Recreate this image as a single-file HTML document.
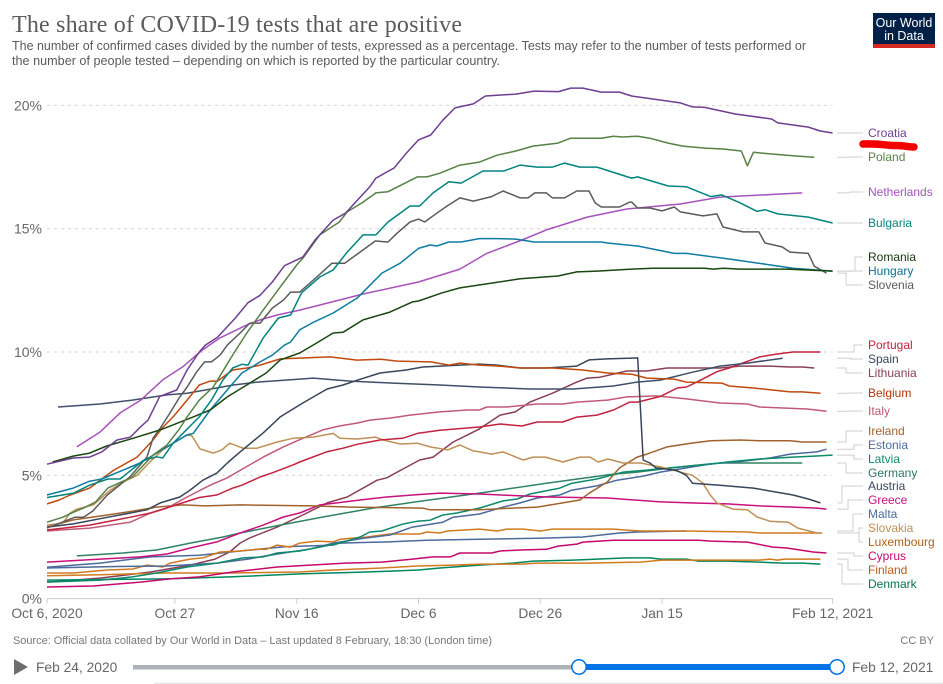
<!DOCTYPE html>
<html lang="en">
<head>
<meta charset="utf-8">
<title>The share of COVID-19 tests that are positive</title>
<style>
html,body{margin:0;padding:0;background:#fff;}
svg{display:block;font-family:"Liberation Sans",sans-serif;}
</style>
</head>
<body>
<svg id="chart" width="943" height="684" viewBox="0 0 943 684" xmlns="http://www.w3.org/2000/svg">
  <rect x="0" y="0" width="943" height="684" fill="#fff"/>
  <text x="12" y="32" font-family="'Liberation Serif',serif" font-size="24" fill="#5b5b5b" textLength="450" lengthAdjust="spacing">The share of COVID-19 tests that are positive</text>
  <text x="12" y="50" font-size="12.5" fill="#5b5b5b" textLength="794" lengthAdjust="spacingAndGlyphs">The number of confirmed cases divided by the number of tests, expressed as a percentage. Tests may refer to the number of tests performed or</text>
  <text x="12" y="65" font-size="12.5" fill="#5b5b5b" textLength="488" lengthAdjust="spacingAndGlyphs">the number of people tested – depending on which is reported by the particular country.</text>

  <g>
    <rect x="873" y="13" width="62" height="35" fill="#002147"/>
    <rect x="873" y="44" width="62" height="4" fill="#d42b21"/>
    <text x="904" y="27" font-size="12.5" fill="#fff" text-anchor="middle">Our World</text>
    <text x="904" y="40" font-size="12.5" fill="#fff" text-anchor="middle">in Data</text>
  </g>

  <g id="grid"></g>
  <g id="yticks"></g>
  <g id="xticks"></g>
  <g id="connectors"></g>
  <g id="lines"></g>

  <g font-size="12">
    <text x="868" y="137" fill="#6d3e91">Croatia</text>
    <text x="868" y="161" fill="#578145">Poland</text>
    <text x="868" y="196" fill="#a652ba">Netherlands</text>
    <text x="868" y="227" fill="#00847e">Bulgaria</text>
    <text x="868" y="261" fill="#18370f">Romania</text>
    <text x="868" y="275" fill="#0e6f96">Hungary</text>
    <text x="868" y="289" fill="#5b5b5b">Slovenia</text>
    <text x="868" y="349" fill="#c4223e">Portugal</text>
    <text x="868" y="363" fill="#38455a">Spain</text>
    <text x="868" y="377" fill="#883f55">Lithuania</text>
    <text x="868" y="397" fill="#b13507">Belgium</text>
    <text x="868" y="415" fill="#bc5b70">Italy</text>
    <text x="868" y="435" fill="#a0622d">Ireland</text>
    <text x="868" y="449" fill="#4c6a9c">Estonia</text>
    <text x="868" y="463" fill="#0c8a6b">Latvia</text>
    <text x="868" y="477" fill="#2e7465">Germany</text>
    <text x="868" y="490" fill="#38455a">Austria</text>
    <text x="868" y="504" fill="#c8107e">Greece</text>
    <text x="868" y="518" fill="#4c6a9c">Malta</text>
    <text x="868" y="532" fill="#be9055">Slovakia</text>
    <text x="868" y="546" fill="#b16214">Luxembourg</text>
    <text x="868" y="560" fill="#c5096b">Cyprus</text>
    <text x="868" y="574" fill="#c15a14">Finland</text>
    <text x="868" y="588" fill="#00754e">Denmark</text>
  </g>

  <path d="M863,144 C878,143 888,146 897,145.5 C904,145.5 908,147 914,147" fill="none" stroke="#f20000" stroke-width="7.5" stroke-linecap="round"/>

  <text x="13" y="644" font-size="11" fill="#777" textLength="479" lengthAdjust="spacingAndGlyphs">Source: Official data collated by Our World in Data – Last updated 8 February, 18:30 (London time)</text>
  <text x="934" y="644" font-size="11" fill="#777" text-anchor="end">CC BY</text>

  <g>
    <polygon points="14,659 28,667 14,675" fill="#6e6e6e"/>
    <text x="36" y="672" font-size="13.8" fill="#666">Feb 24, 2020</text>
    <rect x="133" y="665" width="446" height="4.5" fill="#aeb2ba"/>
    <rect x="579" y="664" width="258" height="6" fill="#0073e6"/>
    <circle cx="579" cy="667" r="7.2" fill="#fff" stroke="#0073e6" stroke-width="1.5"/>
    <circle cx="837" cy="667" r="7.2" fill="#fff" stroke="#0073e6" stroke-width="1.5"/>
    <text x="852" y="672" font-size="13.8" fill="#666">Feb 12, 2021</text>
  </g>
  <rect x="154" y="682.5" width="789" height="1.5" fill="#e8e8e8"/>
</svg>

<script>
// Chart data: each point is [days since Oct 6 2020, percent positive].
const yTicks = [0, 5, 10, 15, 20];
const yTickLabels = ['0%', '5%', '10%', '15%', '20%'];
const xTickDays = [0, 21, 41, 61, 81, 101, 129];
const xTickLabels = ['Oct 6, 2020', 'Oct 27', 'Nov 16', 'Dec 6', 'Dec 26', 'Jan 15', 'Feb 12, 2021'];

const croatia = [[0,5.45],[4.3,5.7],[7,5.74],[9,5.95],[11.5,6.43],[13.7,6.55],[15.3,6.95],[16.6,7.24],[18.5,8.2],[21.3,8.46],[23,9.27],[25,10],[26,10.28],[28,10.6],[31,11.4],[33,12],[35,12.3],[37,12.84],[39,13.5],[42,13.85],[44,14.54],[47,15.35],[49,15.63],[53,16.7],[54,17.05],[57,17.46],[59,18.06],[61,18.6],[63,18.8],[65,19.4],[67,19.9],[70,20.06],[72,20.38],[77,20.46],[80,20.58],[84,20.56],[86,20.7],[88,20.7],[91,20.54],[94,20.54],[96,20.38],[104,20.1],[106,19.94],[108,19.92],[113,19.65],[119,19.45],[120,19.29],[125,19.12],[127,18.96],[129,18.88]];
const poland = [[0,3.1],[2.6,3.3],[4.3,3.5],[6,3.67],[8,3.92],[10,4.48],[14,4.93],[17.4,5.82],[19.7,6.23],[21.8,6.9],[23,7.37],[25,8.05],[27.3,8.58],[30.5,9.88],[32.8,10.77],[35.5,11.7],[38.3,12.63],[41,13.53],[42,13.8],[44.8,14.75],[48,15.27],[49.3,15.68],[51.9,16.08],[54,16.45],[56,16.5],[60.8,17.1],[62.4,17.1],[64.5,17.25],[67.8,17.58],[71,17.7],[73.9,17.98],[77,18.15],[79.8,18.35],[83.9,18.47],[86,18.67],[91,18.67],[93,18.75],[94.6,18.72],[97,18.75],[99,18.67],[102,18.47],[104.4,18.35],[108,18.27],[111,18.23],[114,18.15],[115,17.55],[116,18.1],[119,18.03],[123,17.95],[126,17.9]];
const netherlands = [[4.9,6.15],[8.7,6.75],[12,7.53],[15.4,8.05],[19,8.87],[22.3,9.4],[25.5,10.08],[28.4,10.57],[32.8,11.1],[35,11.3],[37.8,11.5],[41.5,11.7],[51.9,12.35],[61,12.84],[67.8,13.36],[72.2,14],[78,14.54],[82,14.95],[88.7,15.47],[95.2,15.8],[104,16],[110.5,16.28],[124,16.45]];
const bulgaria = [[0,4.1],[4.3,4.27],[7,4.6],[10,4.85],[12,4.85],[15.8,5.6],[18,5.75],[19,5.7],[20.7,6.3],[25,7.37],[27,8.05],[28.9,8.87],[30.5,9.35],[32,9.5],[33,9.47],[35.5,10.57],[38,11.38],[40,11.5],[41.8,12.4],[44.8,13.04],[47,13.33],[49.3,14.05],[51.9,14.75],[54,14.75],[56,15.27],[59.6,15.92],[61.2,15.92],[63.4,16.45],[66,16.9],[68,16.85],[71.6,17.34],[75,17.34],[77.7,17.58],[80.5,17.5],[83,17.5],[85,17.66],[87.5,17.5],[90.3,17.5],[96,17.05],[97,17.1],[102,16.73],[105,16.7],[109,16.3],[110.8,16.37],[113.8,16.05],[116.6,15.7],[117.9,15.77],[120,15.6],[125,15.47],[129,15.23]];
const romania = [[0.9,5.54],[4.3,5.78],[7,5.9],[9.8,6.19],[14.1,6.5],[18.6,6.84],[24,7.37],[26.8,7.65],[29.6,8.18],[33.3,8.74],[36,9.15],[38.3,9.68],[41.5,9.96],[43.7,10.28],[47,10.77],[48.6,10.8],[51.9,11.3],[56.3,11.62],[60,12.03],[61,12.07],[64.9,12.4],[67.8,12.6],[77.7,12.97],[83.9,13.08],[87,13.25],[90.3,13.28],[96,13.36],[99.5,13.4],[108,13.4],[109.4,13.36],[111,13.4],[113.8,13.36],[121.5,13.36],[129,13.28]];
const hungary = [[0,4.2],[4.3,4.48],[7,4.76],[9,4.85],[15.3,5.5],[18,5.9],[22.9,6.63],[24,6.7],[26.8,7.65],[30,8.58],[32,9.15],[35,9.6],[37,9.87],[39,10.28],[40,10.4],[41.5,10.9],[43.7,11.2],[47,11.58],[51,12.2],[55,13.2],[58,13.6],[61,14.2],[62.9,14.34],[64,14.3],[66,14.46],[68,14.46],[71,14.6],[73.9,14.6],[77,14.58],[80,14.46],[85,14.46],[91,14.46],[92,14.42],[97,14.3],[103,14],[105,14],[112,13.77],[118,13.56],[122.5,13.4],[129,13.28]];
const slovenia = [[0,2.86],[4.6,3.3],[6,3.3],[7.5,3.55],[9.9,4.2],[13.6,4.93],[16.4,5.74],[17.4,6.5],[18.6,6.92],[20,7.45],[21.8,8.18],[23,8.58],[24.6,9.2],[25.9,9.6],[27,9.6],[28.4,9.87],[29.6,10.28],[31.7,10.77],[33.3,11.17],[35,11.17],[37,11.78],[38.8,12.1],[40,12.43],[41.5,12.43],[44.3,13.04],[46.8,13.6],[48.9,13.6],[51.4,14.05],[53.9,14.5],[56,14.46],[57.5,14.82],[59.6,15.27],[61,15.39],[62,15.27],[64,15.63],[65.7,15.92],[67.8,16.25],[70,16.12],[73,16.3],[74.9,16.53],[77.7,16.25],[79,16.25],[80.1,16.45],[82,16.45],[83,16.25],[85,16.25],[87,16.53],[89,16.53],[90,16.05],[91,15.88],[94,15.88],[95.7,16.08],[96,16.08],[97,15.84],[99,15.84],[101,15.72],[103,15.88],[104,15.68],[107.7,15.52],[110,15.6],[111,15.07],[114.3,14.87],[116.9,14.87],[117.9,14.42],[120.7,14.26],[122,14.05],[125,14],[126,13.48],[128,13.2]];
const portugal = [[0,2.78],[7,2.98],[13.7,3.3],[17,3.47],[20.7,3.76],[25,4.1],[27.9,4.2],[30.5,4.48],[32,4.6],[35,4.93],[37,5.1],[40.4,5.42],[41.5,5.54],[45.9,5.95],[48.6,6.1],[51,6.26],[54.7,6.43],[58.4,6.5],[60.8,6.7],[64.5,6.83],[71,6.96],[74.4,7.08],[78,7],[80.5,7.16],[84.7,7.16],[87,7.36],[90.3,7.44],[93,7.65],[95.7,7.97],[97,7.97],[100.7,8.2],[103.5,8.54],[105,8.58],[106.7,8.78],[110,9.2],[112,9.35],[117,9.8],[119.9,9.92],[122.5,10],[127,10]];
const spain = [[1.8,7.77],[8.7,7.89],[14,8.05],[19.7,8.26],[23,8.33],[30.6,8.66],[34.5,8.78],[41.5,8.9],[43.7,8.94],[49.8,8.82],[56.8,8.74],[64.5,8.66],[71,8.58],[79.3,8.5],[86.4,8.5],[93,8.62],[96.9,8.78],[100.7,8.86],[106,9.18],[110.5,9.43],[115,9.55],[120.8,9.75]];
const lithuania = [[0,0.67],[8.7,0.83],[17,1.08],[23.5,1.36],[27.6,1.6],[30,1.89],[31.7,2.25],[33.3,2.46],[37.8,2.9],[42,3.39],[46,3.88],[49.3,4.12],[54.2,4.8],[55.8,4.9],[59.1,5.34],[61.2,5.62],[63.4,5.74],[66.7,6.35],[69,6.63],[71,6.88],[74.4,7.44],[76.9,7.57],[79.3,7.97],[83,8.33],[87,8.78],[88.7,8.94],[90.8,8.98],[95.2,9.23],[98.5,9.23],[101.8,9.35],[110.5,9.35],[113.8,9.43],[118.7,9.43],[122,9.39],[124,9.39],[126,9.35]];
const belgium = [[0,3.84],[2,4],[3.8,4.2],[7,4.48],[10.9,5.2],[14.8,5.74],[17.4,6.43],[18.9,6.92],[20.7,7.37],[23,8.05],[25,8.66],[26.8,8.82],[28,8.82],[30.5,9.27],[32.8,9.35],[35,9.47],[38.3,9.72],[46.5,9.8],[50.9,9.67],[54.7,9.71],[57.5,9.63],[63,9.6],[66,9.47],[67.8,9.55],[71,9.47],[74.4,9.43],[77.7,9.35],[83,9.35],[88,9.27],[92,9.15],[96,9.1],[98.5,8.94],[103,8.9],[105,8.78],[110.8,8.74],[112,8.62],[116,8.54],[122,8.38],[124,8.38],[127,8.33]];
const italy = [[0,2.74],[4.3,2.82],[7,2.86],[13.7,3.1],[17,3.47],[19.7,3.67],[23,4.12],[26.8,4.6],[29.6,4.9],[31.7,5.2],[35.5,5.74],[38.8,6.15],[42,6.5],[45.3,6.84],[48,7],[51,7.12],[53,7.24],[56.3,7.32],[59.6,7.44],[64.5,7.57],[69,7.65],[71,7.65],[72.2,7.77],[75.5,7.77],[80.5,7.89],[84.7,7.89],[87,7.97],[92,8.05],[95.2,8.18],[100,8.22],[105,8.1],[110.5,7.93],[115,7.89],[117,7.77],[124.8,7.69],[128,7.6]];
const ireland = [[0,2.9],[4.3,3.19],[9.9,3.39],[14.1,3.55],[18,3.71],[22.3,3.8],[26,3.76],[31.7,3.8],[43.7,3.76],[49.8,3.71],[61.7,3.67],[62.9,3.6],[71,3.6],[76.5,3.67],[80.5,3.71],[83.7,3.84],[87.5,4],[89,4.27],[92,4.73],[94,5.3],[96.9,5.74],[98.5,5.86],[101.8,6.15],[106,6.31],[109,6.4],[113.8,6.43],[117,6.4],[122,6.4],[124,6.35],[128,6.35]];
const estonia = [[0,1.24],[11.5,1.3],[19.7,1.32],[27.9,1.44],[33,1.6],[35,1.69],[39.9,1.89],[43,2],[47,2.25],[52,2.45],[56.3,2.58],[60,2.9],[65,3.1],[66.7,3.3],[71,3.43],[74.9,3.71],[77.7,3.88],[80.5,4.08],[84.2,4.2],[86.2,4.4],[90.3,4.57],[93.6,4.8],[98,4.97],[100.7,5.13],[105,5.3],[108,5.42],[110.5,5.5],[113.3,5.54],[118.7,5.7],[122,5.86],[126.4,5.95],[128,6.06]];
const latvia = [[0,0.67],[8.7,0.75],[14,0.88],[18,1.04],[23,1.28],[27.9,1.44],[32.2,1.65],[35.5,1.69],[37.8,1.85],[41.5,1.93],[44,2.05],[48.1,2.25],[51.4,2.5],[53,2.7],[55,2.74],[58.4,3.02],[60.8,3.14],[62.9,3.18],[65,3.39],[67.3,3.47],[71,3.67],[74.9,3.96],[77.2,4.04],[79.3,4.24],[84.2,4.48],[86.2,4.68],[90.3,4.85],[94.6,5.13],[98,5.2],[104,5.34],[110.5,5.5],[111.7,5.54],[117,5.66],[122.5,5.74],[126,5.78],[129,5.82]];
const germany = [[4.9,1.73],[12.5,1.85],[18,1.97],[23.5,2.25],[28.9,2.5],[31.7,2.66],[38.3,2.98],[45.3,3.31],[53.5,3.67],[61.7,3.96],[71,4.28],[82,4.68],[93,5.05],[96.9,5.13],[104,5.34],[110.5,5.5],[116.6,5.5],[124,5.5]];
const austria = [[0,2.9],[4.3,3.03],[10,3.3],[13.7,3.47],[16.4,3.6],[18.6,3.88],[21.8,4.12],[23.5,4.4],[25.6,4.8],[27.9,5.09],[29.6,5.5],[31.7,5.95],[35.5,6.72],[38.3,7.37],[42,7.93],[46,8.5],[48.6,8.66],[51,8.86],[54.7,9.15],[59,9.27],[61.7,9.39],[71,9.51],[73.9,9.47],[77.7,9.35],[82,9.35],[87,9.43],[89,9.68],[92,9.72],[97,9.76],[97.9,5.62],[99,5.5],[100,5.3],[103.4,5.2],[105,5],[106,4.68],[110.5,4.6],[116,4.48],[122.5,4.2],[125,4.04],[127,3.88]];
const greece = [[0,1.48],[8.7,1.6],[15.3,1.69],[19.7,1.81],[23.5,2.05],[27.9,2.3],[31.7,2.66],[35.5,2.98],[38.8,3.31],[41.5,3.47],[44.8,3.8],[47.6,3.88],[51.4,4],[55.8,4.12],[60,4.2],[64.5,4.28],[71,4.24],[82,4.12],[92,4.08],[100.7,3.92],[105.6,3.88],[111.7,3.84],[117,3.76],[122.5,3.71],[126.4,3.67],[128,3.63]];
const malta = [[0,1.27],[8.7,1.44],[17,1.69],[25,1.76],[30.5,1.9],[31.7,1.93],[39,2.1],[47,2.17],[48,2.25],[56,2.3],[62.4,2.37],[71,2.41],[80.5,2.45],[88,2.5],[94,2.66],[96.9,2.7],[105,2.74]];
const slovakia = [[0,2.98],[2.6,3.06],[3.8,3.47],[4.9,3.63],[7.6,3.8],[10.4,4.4],[12.5,4.73],[14.8,5],[16.9,5.54],[19,6.03],[20.7,6.3],[23,6.63],[23.8,6.6],[25.1,6.07],[27.3,5.9],[28.7,6.03],[30,6.3],[32.2,6.1],[34.5,6.1],[37.8,6.35],[40.4,6.5],[43.7,6.55],[47,6.7],[48.1,6.5],[50.9,6.47],[53.9,6.55],[55.2,6.43],[58,6.27],[60.8,6.3],[62.9,6.15],[65.8,6.03],[67.8,6.23],[70,5.99],[71,5.95],[73,5.86],[74.9,5.95],[78.2,5.62],[79.8,5.74],[81.8,5.74],[84.7,5.54],[87.5,5.74],[89.2,5.74],[90.5,5.54],[92.1,5.66],[94.6,5.5],[97.4,5.5],[100.7,5.34],[106,5],[107.7,4.68],[108.9,4.2],[110,3.88],[112.6,3.63],[115,3.6],[116.6,3.31],[118.7,3.14],[121.7,3.1],[123.3,2.86],[126.4,2.66],[127.3,2.66]];
const luxembourg = [[0,1.04],[4.3,1.04],[9.9,1.16],[14.1,1.2],[16.4,1.36],[19,1.28],[20.2,1.44],[23.5,1.6],[25.6,1.65],[28.4,1.89],[31.7,1.93],[34.5,2],[36,2],[37.8,2.17],[40,2.09],[41.5,2.25],[44.3,2.33],[47,2.3],[48.1,2.41],[52.5,2.5],[56.3,2.62],[61.2,2.62],[62.4,2.7],[64.5,2.66],[65.7,2.74],[71,2.82],[73.9,2.74],[75.5,2.82],[78.2,2.82],[81,2.74],[83,2.82],[87.5,2.82],[93,2.82],[97.4,2.74],[105,2.74],[115,2.7],[117,2.66],[127,2.66]];
const cyprus = [[0,0.47],[7.6,0.51],[15.3,0.67],[20.2,0.8],[25,0.88],[30.5,1.08],[37.8,1.28],[43.2,1.36],[49,1.44],[55,1.48],[60,1.6],[63.4,1.69],[66.2,1.69],[67.8,1.85],[73,1.85],[74.4,1.93],[77.7,1.97],[82,2],[83.9,2.13],[87,2.21],[88,2.29],[93,2.37],[99.5,2.37],[107,2.37],[109,2.33],[115,2.29],[119.2,2.09],[121.5,2.05],[125.8,1.89],[128,1.85]];
const finland = [[0,0.93],[8.7,0.97],[19.7,1.04],[30,1.04],[41.5,1.08],[47,1.16],[55,1.24],[60.8,1.32],[66.7,1.36],[71,1.4],[78,1.4],[80.5,1.44],[89,1.44],[97.4,1.48],[101,1.56],[111.7,1.56],[117,1.56],[118.7,1.6],[120,1.56],[121,1.6],[127,1.6]];
const denmark = [[0,0.75],[19.7,0.8],[30,0.88],[41.5,1],[52.5,1.08],[61,1.16],[64.5,1.24],[71,1.36],[76.5,1.44],[79.8,1.52],[86.4,1.56],[95.2,1.65],[99,1.65],[100.7,1.6],[105,1.6],[107,1.52],[111.7,1.52],[117,1.48],[120.8,1.44],[124,1.44],[127,1.4]];

const seriesList = [
  {name:'lithuania', points:lithuania, color:'#883f55', labelY:373, elbowX:846},
  {name:'denmark', points:denmark, color:'#00875e', labelY:584, elbowX:842},
  {name:'finland', points:finland, color:'#d17a1f', labelY:570, elbowX:848},
  {name:'cyprus', points:cyprus, color:'#c5096b', labelY:556, elbowX:854},
  {name:'malta', points:malta, color:'#4c6a9c', labelY:514, elbowX:853},
  {name:'luxembourg', points:luxembourg, color:'#d07a20', labelY:542, elbowX:859},
  {name:'germany', points:germany, color:'#2e8465', labelY:473, elbowX:846},
  {name:'estonia', points:estonia, color:'#4c6a9c', labelY:445, elbowX:854},
  {name:'latvia', points:latvia, color:'#0c8a6b', labelY:459, elbowX:854},
  {name:'greece', points:greece, color:'#c8107e', labelY:500, elbowX:848},
  {name:'ireland', points:ireland, color:'#a0622d', labelY:431, elbowX:846},
  {name:'italy', points:italy, color:'#c15a78', labelY:411, elbowX:850},
  {name:'slovakia', points:slovakia, color:'#be9055', labelY:528, elbowX:859},
  {name:'portugal', points:portugal, color:'#c4223e', labelY:345, elbowX:854},
  {name:'spain', points:spain, color:'#3f4f68', labelY:359, elbowX:850},
  {name:'austria', points:austria, color:'#38455a', labelY:486, elbowX:842},
  {name:'belgium', points:belgium, color:'#c04a0c', labelY:393, elbowX:850},
  {name:'netherlands', points:netherlands, color:'#a652ba', labelY:192, elbowX:850},
  {name:'slovenia', points:slovenia, color:'#5b5b5b', labelY:285, elbowX:846},
  {name:'hungary', points:hungary, color:'#0e7ca0', labelY:271, elbowX:850},
  {name:'romania', points:romania, color:'#18470f', labelY:257, elbowX:855},
  {name:'bulgaria', points:bulgaria, color:'#00847e', labelY:223, elbowX:850},
  {name:'poland', points:poland, color:'#578145', labelY:157, elbowX:850},
  {name:'croatia', points:croatia, color:'#6d3e91', labelY:133, elbowX:850}
];

const SVG_NS = 'http://www.w3.org/2000/svg';
function xScale(day) { return 47 + day * 6.09; }
function yScale(value) { return 598.6 - value * 24.66; }

const gridGroup = document.getElementById('grid');
const yTickGroup = document.getElementById('yticks');
yTicks.forEach(function (tick, i) {
  if (tick !== 0) {
    const gridLine = document.createElementNS(SVG_NS, 'line');
    
    
    gridLine.setAttribute('x1', xScale(0));
    gridLine.setAttribute('x2', xScale(129));
    gridLine.setAttribute('y1', yScale(tick));
    gridLine.setAttribute('y2', yScale(tick));
    gridLine.setAttribute('stroke', '#d6d6d6');
    gridLine.setAttribute('stroke-dasharray', '3,4');
    gridGroup.appendChild(gridLine);
  }
  const tickText = document.createElementNS(SVG_NS, 'text');
  
  
  tickText.setAttribute('x', 42);
  tickText.setAttribute('y', yScale(tick) + 5);
  tickText.setAttribute('text-anchor', 'end');
  tickText.setAttribute('font-size', '14');
  tickText.setAttribute('fill', '#666');
  tickText.textContent = yTickLabels[i];
  yTickGroup.appendChild(tickText);
});

const xTickGroup = document.getElementById('xticks');
const axisLine = document.createElementNS(SVG_NS, 'line');


axisLine.setAttribute('x1', xScale(0));
axisLine.setAttribute('x2', xScale(129));
axisLine.setAttribute('y1', yScale(0));
axisLine.setAttribute('y2', yScale(0));
axisLine.setAttribute('stroke', '#ccc');
xTickGroup.appendChild(axisLine);
xTickDays.forEach(function (day, i) {
  const tickMark = document.createElementNS(SVG_NS, 'line');
  
  
  tickMark.setAttribute('x1', xScale(day));
  tickMark.setAttribute('x2', xScale(day));
  tickMark.setAttribute('y1', yScale(0));
  tickMark.setAttribute('y2', yScale(0) + 5);
  tickMark.setAttribute('stroke', '#ccc');
  xTickGroup.appendChild(tickMark);
  const tickText = document.createElementNS(SVG_NS, 'text');
  
  
  tickText.setAttribute('x', xScale(day));
  tickText.setAttribute('y', 618);
  tickText.setAttribute('text-anchor', 'middle');
  tickText.setAttribute('font-size', '13.8');
  tickText.setAttribute('fill', '#666');
  tickText.textContent = xTickLabels[i];
  xTickGroup.appendChild(tickText);
});

const connectorGroup = document.getElementById('connectors');
const lineGroup = document.getElementById('lines');
seriesList.forEach(function (s) {
  const d = s.points.map(function (p, i) {
    return (i ? 'L' : 'M') + xScale(p[0]).toFixed(1) + ',' + yScale(p[1]).toFixed(1);
  }).join(' ');
  const path = document.createElementNS(SVG_NS, 'path');
  
  
  path.setAttribute('d', d);
  path.setAttribute('fill', 'none');
  path.setAttribute('stroke', s.color);
  path.setAttribute('stroke-width', '1.5');
  path.setAttribute('stroke-linejoin', 'round');
  lineGroup.appendChild(path);

  const endValue = s.points[s.points.length - 1][1];
  const connector = document.createElementNS(SVG_NS, 'path');
  
  
  connector.setAttribute('d', 'M837,' + yScale(endValue).toFixed(1) + ' H' + s.elbowX + ' V' + s.labelY + ' H863');
  connector.setAttribute('fill', 'none');
  connector.setAttribute('stroke', '#cfcfcf');
  connector.setAttribute('stroke-width', '1');
  connectorGroup.appendChild(connector);
});
</script>
</body>
</html>
